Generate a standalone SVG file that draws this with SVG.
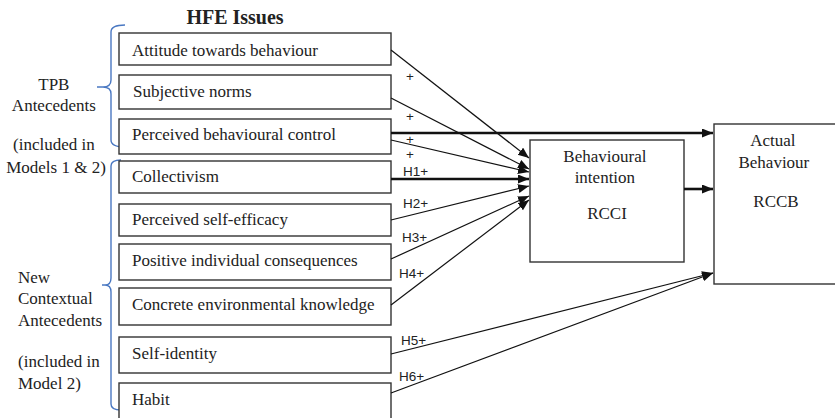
<svg xmlns="http://www.w3.org/2000/svg" width="835" height="418" viewBox="0 0 835 418">
  <style>
    .box { fill: #ffffff; stroke: #333333; stroke-width: 1.4; }
    .serif { font-family: "Liberation Serif", "Times New Roman", serif; font-size: 17px; fill: #222222; }
    .title { font-family: "Liberation Serif", "Times New Roman", serif; font-size: 20px; font-weight: bold; fill: #222222; }
    .lab { font-family: "Liberation Sans", Arial, sans-serif; font-size: 13.5px; fill: #222222; }
    .brace { fill: none; stroke: #4a78c2; stroke-width: 1.4; }
    .thin { fill: none; stroke: #111111; stroke-width: 1.2; marker-end: url(#arrow); }
    .thick { fill: none; stroke: #111111; stroke-width: 2.6; marker-end: url(#arrow); }
  </style>
  <defs>
    <marker id="arrow" markerUnits="userSpaceOnUse" markerWidth="12" markerHeight="10" refX="11" refY="4.5" orient="auto">
      <path d="M0,0 L11,4.5 L0,9 z" fill="#111111"/>
    </marker>
  </defs>

  <rect width="835" height="418" fill="#ffffff"/>

  <text class="title" x="235" y="24" text-anchor="middle">HFE Issues</text>

  <!-- group labels and braces -->
  <g id="tpb-group">
    <path class="brace" d="M125,25 Q111,25 111,32 L111,80 Q111,87 103,87 L97,87 M103,87 Q111,87 111,94 L111,140 Q111,147 125,147"/>
    <text class="serif" text-anchor="middle">
      <tspan x="56" y="90">TPB</tspan>
      <tspan x="56" y="111">Antecedents</tspan>
      <tspan x="56" y="150">(included in</tspan>
      <tspan x="56" y="173">Models 1 &amp; 2)</tspan>
    </text>
  </g>
  <g id="contextual-group">
    <path class="brace" d="M121,160 Q111,160 111,166 L111,278 Q111,285 105,285 L102,285 M105,285 Q111,285 111,292 L111,404 Q111,410 121,410"/>
    <text class="serif">
      <tspan x="18" y="283">New</tspan>
      <tspan x="18" y="304">Contextual</tspan>
      <tspan x="18" y="326">Antecedents</tspan>
      <tspan x="18" y="367">(included in</tspan>
      <tspan x="18" y="389">Model 2)</tspan>
    </text>
  </g>

  <!-- antecedent nodes -->
  <g id="attitude">
    <rect class="box" x="119" y="33" width="272" height="32"/>
    <text class="serif" x="132" y="56">Attitude towards behaviour</text>
  </g>
  <g id="subjective-norms">
    <rect class="box" x="119" y="75" width="272" height="34"/>
    <text class="serif" x="133" y="97">Subjective norms</text>
  </g>
  <g id="perceived-control">
    <rect class="box" x="119" y="119" width="272" height="35"/>
    <text class="serif" x="132" y="140">Perceived behavioural control</text>
  </g>
  <g id="collectivism">
    <rect class="box" x="119" y="161" width="272" height="32"/>
    <text class="serif" x="132" y="182">Collectivism</text>
  </g>
  <g id="self-efficacy">
    <rect class="box" x="119" y="204" width="272" height="32"/>
    <text class="serif" x="132" y="225">Perceived self-efficacy</text>
  </g>
  <g id="individual-consequences">
    <rect class="box" x="119" y="244" width="272" height="36"/>
    <text class="serif" x="132" y="266">Positive individual consequences</text>
  </g>
  <g id="environmental-knowledge">
    <rect class="box" x="119" y="288" width="272" height="37"/>
    <text class="serif" x="132" y="310">Concrete environmental knowledge</text>
  </g>
  <g id="self-identity">
    <rect class="box" x="119" y="337" width="272" height="36"/>
    <text class="serif" x="132" y="359">Self-identity</text>
  </g>
  <g id="habit">
    <rect class="box" x="119" y="383" width="272" height="40"/>
    <text class="serif" x="132" y="405">Habit</text>
  </g>

  <!-- outcome nodes -->
  <g id="intention">
    <rect class="box" x="530" y="140" width="154" height="122"/>
    <text class="serif" text-anchor="middle">
      <tspan x="607" y="162">Behavioural</tspan>
      <tspan x="607" y="183">intention</tspan>
      <tspan x="607" y="219">RCCI</tspan>
    </text>
  </g>
  <g id="actual-behaviour">
    <rect class="box" x="714" y="124" width="130" height="160"/>
    <text class="serif" text-anchor="middle">
      <tspan x="775" y="146">Actual</tspan>
      <tspan x="776" y="168">Behaviour</tspan>
      <tspan x="776" y="207">RCCB</tspan>
    </text>
  </g>

  <!-- connectors -->
  <g id="connectors">
    <line class="thin" x1="391" y1="50" x2="529" y2="158"/>
    <line class="thin" x1="391" y1="98" x2="529" y2="169"/>
    <line class="thin" x1="391" y1="140" x2="529" y2="172"/>
    <line class="thick" x1="391" y1="133" x2="713" y2="133"/>
    <line class="thick" x1="391" y1="179" x2="529" y2="179"/>
    <line class="thin" x1="391" y1="220" x2="529" y2="186"/>
    <line class="thin" x1="391" y1="259" x2="529" y2="196"/>
    <line class="thin" x1="391" y1="305" x2="529" y2="200"/>
    <line class="thick" x1="684" y1="189" x2="713" y2="189"/>
    <line class="thin" x1="391" y1="354" x2="713" y2="273"/>
    <line class="thin" x1="391" y1="393" x2="713" y2="273"/>

    <text class="lab" x="406" y="81">+</text>
    <text class="lab" x="406" y="121">+</text>
    <text class="lab" x="406" y="144">+</text>
    <text class="lab" x="406" y="159">+</text>
    <text class="lab" x="403" y="176">H1+</text>
    <text class="lab" x="403" y="208">H2+</text>
    <text class="lab" x="402" y="242">H3+</text>
    <text class="lab" x="399" y="278">H4+</text>
    <text class="lab" x="401" y="345">H5+</text>
    <text class="lab" x="399" y="381">H6+</text>
  </g>
</svg>
